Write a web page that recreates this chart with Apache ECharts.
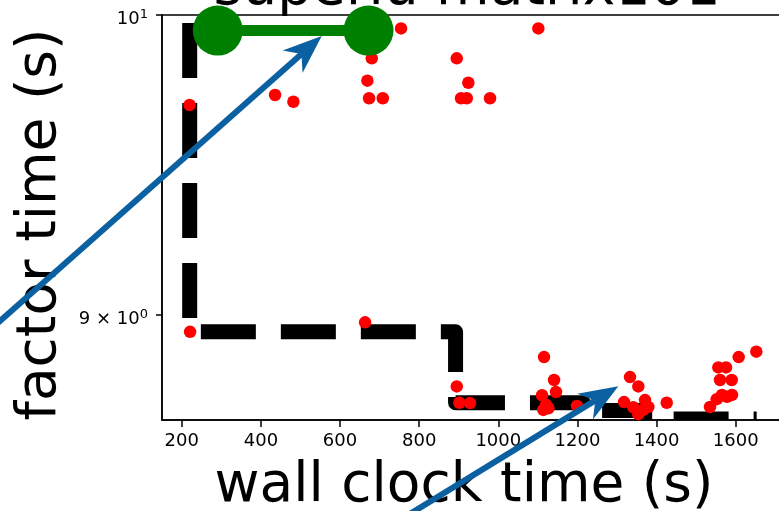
<!DOCTYPE html>
<html><head><meta charset="utf-8">
<script src="https://cdn.jsdelivr.net/npm/echarts@6/dist/echarts.min.js"></script>
<style>html,body{margin:0;padding:0;background:#fff}#c{width:779px;height:511px}</style>
</head><body><div id="c"></div>
<script>
// ---- data ----
const wallClock = [219.7, 221.0, 435.8, 482.1, 663.3, 673.4, 708.0, 669.1, 680.2, 754.2,
  895.0, 924.3, 905.9, 920.3, 979.1, 1101.2, 895.0, 901.6, 928.6, 1115.6,
  1140.9, 1145.9, 1110.6, 1120.7, 1126.5, 1113.8, 1199.0, 1332.9, 1353.9, 1317.8,
  1341.3, 1370.8, 1379.2, 1353.9, 1366.5, 1425.7, 1535.1, 1552.0, 1565.4, 1590.7,
  1578.0, 1560.4, 1589.9, 1556.1, 1575.6, 1607.6, 1652.1];
const factorTime = [9.689, 8.947, 9.723, 9.700, 8.977, 9.712, 9.712, 9.772, 9.849, 9.953,
  9.849, 9.765, 9.712, 9.712, 9.712, 9.953, 8.777, 8.727, 8.726, 8.868,
  8.797, 8.760, 8.750, 8.720, 8.710, 8.705, 8.717, 8.806, 8.777, 8.729,
  8.713, 8.735, 8.714, 8.692, 8.705, 8.727, 8.714, 8.738, 8.751, 8.751,
  8.745, 8.797, 8.797, 8.836, 8.836, 8.868, 8.885];
const bestX = [220, 220, 892, 892, 1215, 1215, 1370, 1370, 1653];
const bestY = [9.972, 8.947, 8.947, 8.727, 8.727, 8.703, 8.703, 8.677, 8.677];
const xTicks = [200, 400, 600, 800, 1000, 1200, 1400, 1600];
const yTickValues = [9, 10];
const yTickMantissa = ['9 × 10', '10'];
const yTickExponent = ['0', '1'];
const dumbbellX = [291, 672];
const dumbbellY = [9.9456, 9.9456];
const arrowTailX = [-335, 751.7];
const arrowTailY = [8.8977, 8.375];
const arrowTipX = [553.8, 1303.4];
const arrowTipY = [9.9266, 8.7775];
const X_MIN = 150, X_MAX = 1712, Y_MIN = 8.6742, Y_MAX = 10;
const titleText = 'superlu matrix101';

// ---- chart ----
const L = Math.log10;
const FONT = '"DejaVu Sans", sans-serif';
const BLUE = '#0a60a0';
const chart = echarts.init(document.getElementById('c'), null, {renderer: 'canvas'});

const option = {
  animation: false,
  backgroundColor: '#fff',
  grid: {left: 162, top: 15, bottom: 91, right: -1, show: true, borderColor: '#000', borderWidth: 1.5,
    backgroundColor: 'transparent', containLabel: false, outerBoundsMode: 'none'},
  xAxis: {
    type: 'value', min: X_MIN, max: X_MAX,
    name: 'wall clock time (s)', nameLocation: 'middle', nameGap: 39,
    nameTextStyle: {fontSize: 55, fontFamily: FONT, color: '#000', padding: [0, 14, 0, 0]},
    axisLine: {lineStyle: {color: '#000', width: 1.5}},
    axisTick: {customValues: xTicks, length: 7, lineStyle: {color: '#000', width: 1.5}},
    axisLabel: {customValues: xTicks, fontSize: 18, fontFamily: FONT, color: '#000', margin: 12,
      formatter: function (v) { return String(Math.round(v)); }},
    splitLine: {show: false}
  },
  yAxis: {
    type: 'value', min: L(Y_MIN), max: L(Y_MAX),
    name: 'factor time (s)', nameLocation: 'middle', nameGap: 93,
    nameTextStyle: {fontSize: 55, fontFamily: FONT, color: '#000', padding: [0, 14, 0, 0]},
    axisLine: {show: true, lineStyle: {color: '#000', width: 1.5}},
    axisTick: {show: true, customValues: yTickValues.map(L), length: 6, lineStyle: {color: '#000', width: 1.5}},
    axisLabel: {
      customValues: yTickValues.map(L), margin: 14, padding: [8, 0, 0, 0],
      formatter: function (v) {
        let k = 0, best = Infinity;
        yTickValues.forEach(function (t, i) { const d = Math.abs(L(t) - v); if (d < best) { best = d; k = i; } });
        return '{b|' + yTickMantissa[k] + '}{s|' + yTickExponent[k] + '}';
      },
      rich: {
        b: {fontSize: 18, fontFamily: FONT, color: '#000', lineHeight: 22},
        s: {fontSize: 13, fontFamily: FONT, color: '#000', lineHeight: 13, verticalAlign: 'top'}
      }
    },
    splitLine: {show: false}
  },
  series: [
    {
      type: 'custom', name: 'best', z: 1, clip: true,
      data: [[bestX[0], L(bestY[0])]],
      renderItem: function (params, api) {
        const pts = bestX.map(function (x, i) { return api.coord([x, L(bestY[i])]); });
        return {type: 'polyline', shape: {points: pts},
          style: {stroke: '#000', fill: null, lineWidth: 15, lineDash: [55, 25], lineCap: 'butt', lineJoin: 'round'}};
      }
    },
    {
      type: 'scatter', name: 'samples', z: 3, symbolSize: 12.5,
      itemStyle: {color: '#ff0000', opacity: 1},
      data: wallClock.map(function (x, i) { return [x, L(factorTime[i])]; })
    },
    {
      type: 'line', name: 'range', z: 4, clip: false, symbol: 'circle', symbolSize: 50, showSymbol: true,
      lineStyle: {color: '#008000', width: 11},
      itemStyle: {color: '#008000'},
      data: dumbbellX.map(function (x, i) { return [x, L(dumbbellY[i])]; })
    }
  ]
};
chart.setOption(option);

const els = [{
  type: 'text', z: 100,
  style: {text: titleText, x: 467, y: -10, textAlign: 'center', textVerticalAlign: 'middle', font: '55px ' + FONT, fill: '#000'}
}];
for (let i = 0; i < arrowTailX.length; i++) {
  const s = chart.convertToPixel({gridIndex: 0}, [arrowTailX[i], L(arrowTailY[i])]);
  const t = chart.convertToPixel({gridIndex: 0}, [arrowTipX[i], L(arrowTipY[i])]);
  const dx = t[0] - s[0], dy = t[1] - s[1], len = Math.hypot(dx, dy);
  const ux = dx / len, uy = dy / len, nx = -uy, ny = ux;
  const HL = 39, HW = 15, NOTCH = 27;
  els.push({type: 'line', z: 100, shape: {x1: s[0], y1: s[1], x2: t[0] - ux * NOTCH, y2: t[1] - uy * NOTCH},
    style: {stroke: BLUE, lineWidth: 6}});
  els.push({type: 'polygon', z: 101, shape: {points: [
    [t[0], t[1]],
    [t[0] - ux * HL + nx * HW, t[1] - uy * HL + ny * HW],
    [t[0] - ux * NOTCH, t[1] - uy * NOTCH],
    [t[0] - ux * HL - nx * HW, t[1] - uy * HL - ny * HW]
  ]}, style: {fill: BLUE}});
}
chart.setOption({graphic: els});
</script></body></html>
